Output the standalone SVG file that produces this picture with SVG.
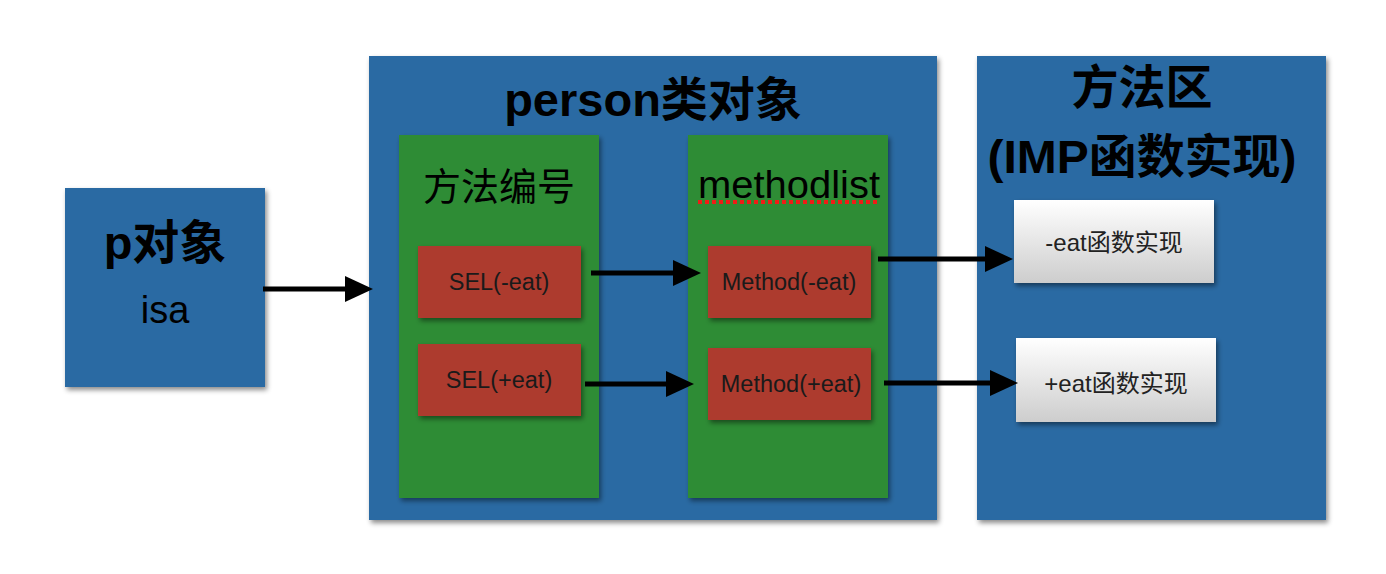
<svg xmlns="http://www.w3.org/2000/svg" width="1386" height="574" viewBox="0 0 1386 574">
<defs>
<filter id="sh" x="-10%" y="-10%" width="125%" height="125%">
<feDropShadow dx="2" dy="3" stdDeviation="2.5" flood-color="#000" flood-opacity="0.45"/>
</filter>
<linearGradient id="wg" x1="0" y1="0" x2="0" y2="1">
<stop offset="0" stop-color="#ffffff"/>
<stop offset="1" stop-color="#cdcdcd"/>
</linearGradient>
<marker id="ah" markerUnits="userSpaceOnUse" markerWidth="28" markerHeight="26" refX="0" refY="13" orient="auto">
<path d="M0,0 L28,13 L0,26 Z" fill="#000"/>
</marker>
</defs>
<style>
.blue{fill:#2c6ba3;filter:url(#sh)}
.green{fill:#2f8c36;filter:url(#sh)}
.red{fill:#ad3a2f;filter:url(#sh)}
.white{fill:url(#wg);filter:url(#sh)}
text{font-family:"Liberation Sans","Noto Sans CJK SC",sans-serif;fill:#000;text-anchor:middle}
.big{font-size:47px;font-weight:bold}
.mid{font-size:38px}
.sm{font-size:23.5px;fill:#1a1a1a}
.wt{font-size:24px;fill:#222}
.conn line{stroke:#000;stroke-width:5}
</style>
<rect width="1386" height="574" fill="#fff"/>
<g id="p-object">
<rect class="blue" x="65" y="188" width="200" height="199"/>
<text class="big" x="165" y="259" font-size="43">p对象</text>
<text class="mid" x="165" y="323" font-size="36" fill="#111">isa</text>
</g>
<g id="person-class">
<rect class="blue" x="369" y="56" width="568" height="464"/>
<text class="big" x="653" y="116">person类对象</text>
</g>
<g id="sel-column">
<rect class="green" x="399" y="135" width="200" height="363"/>
<text class="mid" x="499" y="200">方法编号</text>
</g>
<g id="methodlist-column">
<rect class="green" x="688" y="135" width="200" height="363"/>
<text class="mid" x="789" y="198" textLength="182" lengthAdjust="spacingAndGlyphs">methodlist</text>
<line x1="698" y1="202" x2="880" y2="202" stroke="#f01c16" stroke-width="4" stroke-dasharray="4 3"/>
</g>
<g id="sel-minus-eat">
<rect class="red" x="418" y="246" width="163" height="72"/>
<text class="sm" x="499" y="290">SEL(-eat)</text>
</g>
<g id="sel-plus-eat">
<rect class="red" x="418" y="344" width="163" height="72"/>
<text class="sm" x="499" y="388">SEL(+eat)</text>
</g>
<g id="method-minus-eat">
<rect class="red" x="708" y="246" width="163" height="72"/>
<text class="sm" x="789" y="290">Method(-eat)</text>
</g>
<g id="method-plus-eat">
<rect class="red" x="708" y="348" width="163" height="72"/>
<text class="sm" x="791" y="392">Method(+eat)</text>
</g>
<g id="method-area">
<rect class="blue" x="977" y="56" width="349" height="464"/>
<text class="big" x="1142" y="104">方法区</text>
<text class="big" x="1142" y="173" textLength="309" lengthAdjust="spacingAndGlyphs">(IMP函数实现)</text>
</g>
<g id="imp-minus-eat">
<rect class="white" x="1014" y="200" width="200" height="83"/>
<text class="wt" x="1114" y="251">-eat函数实现</text>
</g>
<g id="imp-plus-eat">
<rect class="white" x="1016" y="338" width="200" height="84"/>
<text class="wt" x="1116" y="392">+eat函数实现</text>
</g>
<g id="connectors" class="conn">
<line x1="263" y1="289" x2="345" y2="289" marker-end="url(#ah)"/>
<line x1="591" y1="273" x2="673" y2="273" marker-end="url(#ah)"/>
<line x1="585" y1="384" x2="666" y2="384" marker-end="url(#ah)"/>
<line x1="878" y1="259" x2="985" y2="259" marker-end="url(#ah)"/>
<line x1="884" y1="383" x2="990" y2="383" marker-end="url(#ah)"/>
</g>
</svg>
